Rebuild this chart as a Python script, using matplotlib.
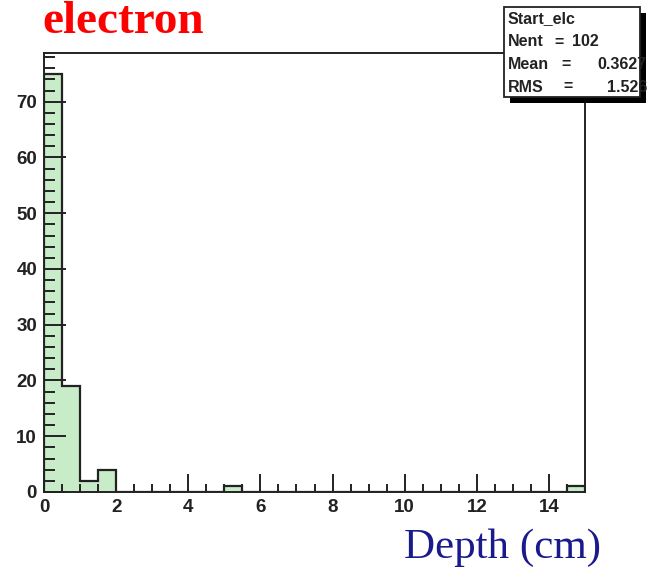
import numpy as np
import matplotlib.pyplot as plt
from matplotlib.patches import Rectangle
from matplotlib.ticker import MultipleLocator

# depth histogram of electron start points, 0.5 cm bins
bin_edges = np.arange(0, 15.5, 0.5)
counts = [75, 19, 2, 4, 0, 0, 0, 0, 0, 0,
          1, 0, 0, 0, 0, 0, 0, 0, 0, 0,
          0, 0, 0, 0, 0, 0, 0, 0, 0, 1]

stats_name = "Start_elc"
stats_rows = [("Nent", "102"), ("Mean", "0.3627"), ("RMS", "1.526")]

FILL = '#c8ecc8'
EDGE = '#222222'

fig = plt.figure(figsize=(6.58, 5.72), dpi=100)
ax = fig.add_axes([0.0669, 0.1399, 0.8222, 0.7675])

ax.stairs(counts, bin_edges, fill=True, facecolor=FILL, edgecolor='none')
ax.stairs(counts, bin_edges, color=EDGE, linewidth=1.6)

ax.set_xlim(0, 15)
ax.set_ylim(0, 78.75)
ax.xaxis.set_major_locator(MultipleLocator(2))
ax.xaxis.set_minor_locator(MultipleLocator(0.5))
ax.yaxis.set_major_locator(MultipleLocator(10))
ax.yaxis.set_minor_locator(MultipleLocator(2))
ax.tick_params(which='both', direction='in', top=False, right=False, color='#222222')
ax.tick_params(axis='y', which='major', length=16, width=1.4)
ax.tick_params(axis='y', which='minor', length=8, width=1.4)
ax.tick_params(axis='x', which='major', length=13, width=1.4)
ax.tick_params(axis='x', which='minor', length=6, width=1.4)
ax.tick_params(which='major', labelsize=13.5, pad=5)
for lab in ax.get_xticklabels() + ax.get_yticklabels():
    lab.set_fontweight('bold')
    lab.set_family('Liberation Sans')
    lab.set_color('#222222')
for sp in ax.spines.values():
    sp.set_linewidth(1.4)
    sp.set_color('#222222')

fig.text(0.064, 1 - 33 / 572, "electron", color='red', fontsize=34, fontweight='bold',
         family='Liberation Serif', ha='left', va='baseline')
fig.text(0.913, 1 - 558 / 572, "Depth (cm)", color='#1a1a8c', fontsize=31,
         family='Liberation Serif', ha='right', va='baseline')

# stats box with drop shadow
bx0, by0, bw, bh = 504 / 658, 1 - 97 / 572, 136 / 658, 90 / 572
fig.patches.append(Rectangle((bx0 + 6 / 658, by0 - 6 / 572), bw, bh, transform=fig.transFigure,
                             facecolor='black', edgecolor='none', zorder=5))
fig.patches.append(Rectangle((bx0, by0), bw, bh, transform=fig.transFigure,
                             facecolor='white', edgecolor='#222222', linewidth=1.3, zorder=6))
txt = dict(fontsize=11.5, fontweight='bold', family='Liberation Sans', color='#222222',
           va='center', zorder=7)
fig.text(508 / 658, 1 - 19 / 572, stats_name, ha='left', **txt)
eq_x = [554, 561, 563]
for i, (name, val) in enumerate(stats_rows):
    y = 1 - (42 + 22.5 * i) / 572
    fig.text(508 / 658, y, name, ha='left', **txt)
    fig.text(eq_x[i] / 658, y, "=", ha='left', **txt)
    if i == 0:
        fig.text(572 / 658, y, val, ha='left', **txt)
    else:
        fig.text(647 / 658, y, val, ha='right', **txt)

fig.savefig('out.png', dpi=100)
